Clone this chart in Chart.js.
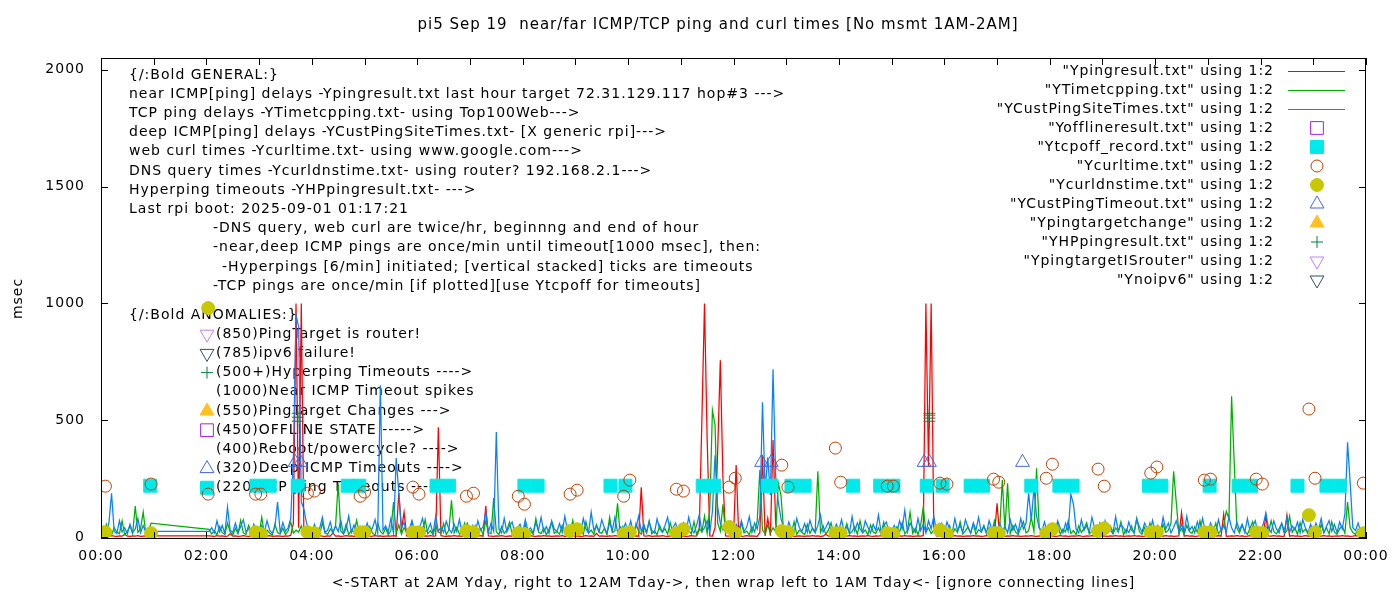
<!DOCTYPE html>
<html lang="en">
<head>
<meta charset="UTF-8">
<title>pi5 Sep 19 near/far ICMP/TCP ping and curl times</title>
<script src="https://cdn.jsdelivr.net/npm/chart.js"></script>
<style>
  html, body { margin: 0; padding: 0; background: #fff; }
</style>
</head>
<body>
<canvas id="chart" width="1400" height="600"></canvas>
<script>
// ---- data (x = minutes after 00:00, y = msec) ----
const stepMin = 3; // line series are sampled every 3 minutes, one row = one hour

const pingMs = [ // Ypingresult.txt (near ICMP)
  4,5,3,4,6,4,3,5,4,12,4,3,5,4,6,3,4,5,4,5,
  null,null,null,null,null,null,null,null,null,null,null,null,null,null,null,null,null,null,null,null,
  null,5,4,3,6,4,5,3,4,14,4,5,3,4,6,4,3,5,4,5,
  4,3,5,4,6,3,4,5,4,3,5,4,8,60,1000,40,1000,5,4,6,
  3,5,4,6,4,3,5,4,18,4,5,3,4,6,4,5,3,4,5,4,
  4,5,3,4,6,4,5,3,4,5,4,6,4,190,30,107,5,4,3,5,
  5,4,3,5,4,6,4,5,470,6,4,3,5,4,6,4,5,3,4,5,
  4,5,3,4,6,4,133,5,4,3,5,4,6,4,3,5,4,12,4,5,
  3,5,4,6,4,3,5,4,6,4,5,3,4,5,4,6,3,4,5,4,
  4,5,3,4,6,4,5,3,16,4,5,4,3,5,4,6,4,5,3,4,
  5,4,3,5,4,213,5,4,6,3,4,5,4,6,4,3,5,4,5,4,
  4,5,3,4,6,4,5,30,500,1000,420,5,4,40,370,757,250,5,4,6,
  4,308,5,3,4,6,4,5,4,3,20,350,5,80,6,415,60,5,4,3,
  5,4,6,3,4,5,4,3,5,4,6,4,5,3,4,12,4,5,3,4,
  4,5,3,4,6,4,5,3,4,5,4,6,4,3,5,4,6,4,5,4,
  5,4,3,5,4,6,4,5,3,4,5,4,6,1000,300,1000,40,5,4,3,
  4,5,3,4,6,4,5,3,4,5,4,6,4,5,3,4,6,4,5,4,
  145,5,4,3,5,4,6,4,5,3,4,5,4,6,4,3,5,4,5,4,
  4,5,3,4,6,4,5,3,4,5,4,6,4,3,5,4,6,4,5,4,
  5,4,3,5,4,6,4,5,3,4,5,4,6,4,5,3,4,6,4,5,
  4,5,3,4,6,4,5,3,4,5,105,4,6,4,5,3,4,6,4,5,
  4,5,3,4,6,4,98,3,4,5,4,6,4,5,3,4,6,4,5,4,
  5,4,94,5,4,6,4,5,3,4,94,4,6,4,5,3,4,6,4,5,
  4,5,3,4,6,4,5,3,4,5,4,6,4,5,3,4,6,4,5,4
];

const tcpPingMs = [ // YTimetcpping.txt
  30,12,55,18,9,40,22,15,70,11,25,48,14,133,20,35,107,16,28,60,
  null,null,null,null,null,null,null,null,null,null,null,null,null,null,null,null,null,null,null,null,
  null,33,14,28,10,45,19,12,60,22,9,38,15,72,18,11,50,24,13,42,
  16,85,12,30,18,9,55,20,14,38,11,26,65,17,30,22,48,12,20,35,
  14,40,22,10,62,18,12,35,20,48,230,25,14,55,11,30,19,72,15,26,
  22,12,45,17,9,60,24,14,38,11,28,150,16,52,13,40,20,10,66,18,
  12,35,20,75,14,28,10,48,22,16,58,11,30,158,18,42,13,25,60,15,
  24,10,50,18,36,12,70,20,14,167,22,11,45,16,30,64,13,26,40,18,
  11,55,19,28,12,80,22,15,40,10,34,62,17,24,13,50,20,38,12,72,
  20,14,42,11,66,18,30,12,54,22,16,38,10,85,19,28,145,13,46,21,
  15,32,10,58,24,12,44,18,70,14,26,11,50,20,36,13,62,16,28,40,
  12,48,20,30,14,66,11,38,22,90,16,120,543,480,60,25,140,18,34,15,
  20,35,12,60,18,26,10,45,22,70,287,30,14,52,18,40,24,231,180,28,
  14,42,18,66,12,30,20,11,55,16,38,24,282,20,48,13,30,62,15,26,
  10,36,20,58,14,24,45,12,70,18,30,11,52,22,16,40,13,64,20,28,
  18,12,44,20,62,14,28,107,16,38,11,50,128,22,40,15,30,12,56,20,
  24,14,48,10,36,20,66,13,28,44,16,58,11,32,22,50,14,40,18,70,
  20,36,244,30,230,14,50,22,12,40,66,18,28,84,24,295,40,16,30,12,
  15,44,20,58,12,34,22,70,16,28,11,48,20,36,62,14,26,44,18,30,
  12,54,18,30,14,40,22,66,10,34,20,48,16,80,24,12,42,18,60,14,
  22,38,14,56,20,30,60,282,150,18,36,12,50,24,16,44,20,70,13,28,
  16,40,22,60,14,30,48,110,80,603,317,40,18,52,24,12,38,66,15,30,
  20,12,44,18,70,24,14,36,58,16,28,90,20,40,12,62,22,34,14,48,
  18,30,12,54,20,40,14,66,22,12,36,48,16,150,40,20,12,34,18,22
];

const custPingMs = [ // YCustPingSiteTimes.txt (deep ICMP)
  20,45,18,60,188,25,15,70,22,40,14,55,20,35,80,18,50,22,30,25,
  null,null,null,null,null,null,null,null,null,null,null,null,null,null,null,null,null,null,null,null,
  null,25,40,18,70,22,50,15,128,30,20,60,18,45,75,22,35,16,55,24,
  18,50,22,70,30,16,45,150,20,62,25,40,80,340,950,900,150,120,60,28,
  22,55,16,40,85,20,30,65,18,48,24,72,15,35,90,20,52,18,44,26,
  20,60,24,38,75,18,650,30,48,22,80,16,338,190,40,62,20,35,70,24,
  18,45,80,22,30,58,16,90,25,42,20,68,35,18,55,24,75,20,40,60,
  22,50,18,70,30,45,107,20,60,25,450,35,18,80,22,48,65,20,38,55,
  20,75,28,40,18,62,30,85,22,45,16,70,35,24,58,20,90,28,42,18,
  25,55,20,80,35,18,107,30,48,22,75,40,18,62,28,85,20,45,30,60,
  22,70,18,40,90,25,55,20,65,30,18,78,35,22,50,85,20,40,60,24,
  28,60,20,85,35,18,50,95,24,40,70,20,110,350,128,60,30,45,22,65,
  20,55,30,70,25,42,88,20,60,35,90,577,200,342,180,718,260,150,80,40,
  22,65,30,18,80,40,25,58,20,72,35,18,50,95,22,40,65,28,18,55,
  30,75,20,45,18,88,25,60,35,20,70,42,18,55,28,95,22,48,65,20,
  25,50,18,70,35,115,22,60,40,20,80,28,55,18,70,35,90,24,45,60,
  20,65,35,18,80,28,50,22,75,40,18,60,30,85,22,45,18,70,35,55,
  22,60,28,45,18,75,30,55,20,80,35,60,188,70,210,90,40,25,65,20,
  30,55,20,70,38,18,60,25,184,140,35,18,75,28,50,20,85,40,22,60,
  18,70,30,48,20,88,25,55,40,18,65,30,20,78,45,22,60,35,18,72,
  25,50,20,85,35,60,18,42,70,25,55,20,90,30,45,18,65,28,80,22,
  20,60,35,18,75,28,50,22,88,40,18,65,30,55,20,80,25,45,70,18,
  28,55,103,40,20,70,35,18,60,25,85,22,48,30,65,18,75,40,20,55,
  22,60,30,80,18,45,70,25,55,20,65,35,100,406,231,40,28,60,22,35
];

// twice-hourly curl / DNS measurements (same timestamps)
const curlMinutes = [5,57,122,176,182,235,243,295,300,355,362,416,424,475,482,534,542,595,602,655,663,715,722,
  775,782,836,842,895,902,955,963,1016,1022,1076,1083,1135,1142,1195,1202,1256,1263,1315,1322,1375,1382,1437];
const curlMs = [218,227,184,184,184,188,197,175,193,214,184,175,188,175,141,184,201,175,244,205,197,214,252,
  308,214,381,235,218,218,231,227,248,235,252,312,291,218,274,300,244,248,248,227,548,252,231];
const dnsMs = [21,17,980,21,13,21,17,21,21,21,21,26,21,17,13,26,34,13,21,17,34,43,17,
  26,21,17,17,17,13,30,13,17,17,17,34,26,38,21,21,21,21,21,17,94,21,17];

const tcpoffMinutes = [56,177,192,224,281,294,382,396,482,497,580,597,685,698,759,763,786,801,856,887,902,940,
  958,990,1004,1059,1091,1106,1193,1207,1262,1295,1309,1362,1395,1410];
const tcpoffMs = [220,220,220,220,220,220,220,220,220,220,220,220,220,220,220,220,220,220,220,220,220,220,
  220,220,220,220,220,220,220,220,220,220,220,220,220,220];

const custTimeoutMinutes = [221,227,752,763,937,943,1049];
const custTimeoutMs = [320,320,320,320,320,320,320];

const hpMinutes = [224,224,224,943,943,943,943];
const hpMs = [496,513,530,496,509,522,530];

const xTickMinutes = [0,120,240,360,480,600,720,840,960,1080,1200,1320,1440];
const xTickLabels = ['00:00','02:00','04:00','06:00','08:00','10:00','12:00','14:00','16:00','18:00','20:00','22:00','00:00'];
const yTicks = [0,500,1000,1500,2000];

const titleText = 'pi5 Sep 19  near/far ICMP/TCP ping and curl times [No msmt 1AM-2AM]';
const xTitle = '<-START at 2AM Yday, right to 12AM Tday->, then wrap left to 1AM Tday<- [ignore connecting lines]';

const generalNotes = [
  ['{/:Bold GENERAL:}', 0],
  ['near ICMP[ping] delays -Ypingresult.txt last hour target 72.31.129.117 hop#3 --->', 0],
  ['TCP ping delays -YTimetcpping.txt- using Top100Web--->', 0],
  ['deep ICMP[ping] delays -YCustPingSiteTimes.txt- [X generic rpi]--->', 0],
  ['web curl times -Ycurltime.txt- using www.google.com--->', 0],
  ['DNS query times -Ycurldnstime.txt- using router? 192.168.2.1--->', 0],
  ['Hyperping timeouts -YHPpingresult.txt- --->', 0],
  ['Last rpi boot: 2025-09-01 01:17:21', 0],
  ['-DNS query, web curl are twice/hr, beginnng and end of hour', 84],
  ['-near,deep ICMP pings are once/min until timeout[1000 msec], then:', 84],
  ['-Hyperpings [6/min] initiated; [vertical stacked] ticks are timeouts', 93],
  ['-TCP pings are once/min [if plotted][use Ytcpoff for timeouts]', 84]
];
const anomalyNotes = [
  ['{/:Bold ANOMALIES:}', null],
  ['(850)PingTarget is router!', 'isrouter'],
  ['(785)ipv6 failure!', 'noipv6'],
  ['(500+)Hyperping Timeouts ---->', 'hp'],
  ['(1000)Near ICMP Timeout spikes', null],
  ['(550)PingTarget Changes --->', 'targetchange'],
  ['(450)OFFLINE STATE ----->', 'offline'],
  ['(400)Reboot/powercycle? ---->', null],
  ['(320)Deep ICMP Timeouts ---->', 'custtimeout'],
  ['(220)TCP ping Timeouts ---->', 'tcpoff']
];

// ---- build datasets ----
function lineSeries(vals) { return vals.map((v, i) => ({ x: i * stepMin, y: v })); }
function pointSeries(xs, ys) { return xs.map((m, i) => ({ x: m, y: ys[i] })); }

function lineDs(key, label, color, vals) {
  return { key, label, data: lineSeries(vals), borderColor: color, borderWidth: 1.25, pointRadius: 0,
    tension: 0, spanGaps: true, fill: false };
}
function markDs(key, label, data, style, radius, border, bg, rotation) {
  return { key, label, data, showLine: false, pointStyle: style, pointRadius: radius,
    pointBorderWidth: 1, pointBorderColor: border, pointBackgroundColor: bg,
    pointRotation: rotation || 0, borderColor: border, backgroundColor: bg };
}

const datasets = [
  lineDs('ping', '"Ypingresult.txt" using 1:2', '#ff0000', pingMs),
  lineDs('tcp', '"YTimetcpping.txt" using 1:2', '#00b000', tcpPingMs),
  lineDs('cust', '"YCustPingSiteTimes.txt" using 1:2', '#0a80ff', custPingMs),
  markDs('offline', '"Yofflineresult.txt" using 1:2', [], 'rect', 9, '#a020f0', 'rgba(0,0,0,0)'),
  markDs('tcpoff', '"Ytcpoff_record.txt" using 1:2', pointSeries(tcpoffMinutes, tcpoffMs), 'rect', 9.2, '#00eaea', '#00eaea'),
  markDs('curl', '"Ycurltime.txt" using 1:2', pointSeries(curlMinutes, curlMs), 'circle', 6, '#c04000', 'rgba(0,0,0,0)'),
  markDs('dns', '"Ycurldnstime.txt" using 1:2', pointSeries(curlMinutes, dnsMs), 'circle', 6.5, '#c8c800', '#c8c800'),
  markDs('custtimeout', '"YCustPingTimeout.txt" using 1:2', pointSeries(custTimeoutMinutes, custTimeoutMs), 'triangle', 8, '#4169e1', 'rgba(0,0,0,0)'),
  markDs('targetchange', '"Ypingtargetchange" using 1:2', [], 'triangle', 8, '#ffc020', '#ffc020'),
  markDs('hp', '"YHPpingresult.txt" using 1:2', pointSeries(hpMinutes, hpMs), 'cross', 6, '#008040', '#008040'),
  markDs('isrouter', '"YpingtargetISrouter" using 1:2', [], 'triangle', 8, '#c080ff', 'rgba(0,0,0,0)', 180),
  markDs('noipv6', '"Ynoipv6" using 1:2', [], 'triangle', 8, '#2f4f5f', 'rgba(0,0,0,0)', 180)
];
// gnuplot draws in plot order: later series on top
datasets.forEach((d, i) => { d.order = datasets.length - i; });
const byKey = {};
datasets.forEach(d => { byKey[d.key] = d; });

const FONT = '14px "DejaVu Sans"';
const TITLE_FONT = '15px "DejaVu Sans"';

function drawMark(ctx, d, x, y) {
  ctx.save();
  ctx.strokeStyle = d.pointBorderColor;
  ctx.fillStyle = d.pointBackgroundColor;
  ctx.lineWidth = 1;
  Chart.helpers.drawPoint(ctx, { pointStyle: d.pointStyle, radius: d.pointRadius,
    rotation: d.pointRotation, borderWidth: 1 }, x, y);
  ctx.restore();
}

const decor = {
  id: 'decor',
  beforeDraw(chart) {
    // gnuplot's png text is set a little looser than the browser's
    chart.ctx.letterSpacing = '1px';
  },
  beforeDatasetsDraw(chart) {
    const ctx = chart.ctx;
    ctx.save();
    ctx.font = FONT;
    ctx.fillStyle = '#000';
    ctx.textBaseline = 'middle';
    ctx.textAlign = 'left';
    generalNotes.forEach((n, i) => ctx.fillText(n[0], 129 + n[1], 75 + i * 19.2));
    anomalyNotes.forEach((n, i) => {
      const y = 315 + i * 19.2;
      if (i === 0) { ctx.fillText(n[0], 129, y); return; }
      ctx.fillText(n[0], 216, y);
      if (n[1]) drawMark(ctx, byKey[n[1]], 207, y);
    });
    ctx.restore();
  },
  afterDraw(chart) {
    const { ctx, chartArea: a, scales: { x, y } } = chart;
    ctx.save();
    // frame + inward mirrored ticks
    ctx.strokeStyle = '#000';
    ctx.lineWidth = 1;
    ctx.strokeRect(a.left + 0.5, a.top + 0.5, a.right - a.left - 1, a.bottom - a.top - 1);
    ctx.beginPath();
    yTicks.forEach(v => {
      const py = Math.round(y.getPixelForValue(v)) + 0.5;
      ctx.moveTo(a.left, py); ctx.lineTo(a.left + 7, py);
      ctx.moveTo(a.right, py); ctx.lineTo(a.right - 7, py);
    });
    for (let m = 0; m <= 1440; m += 60) {
      const px = Math.round(x.getPixelForValue(m)) + 0.5;
      ctx.moveTo(px, a.bottom); ctx.lineTo(px, a.bottom - 7);
      ctx.moveTo(px, a.top); ctx.lineTo(px, a.top + 7);
    }
    ctx.stroke();

    // title
    ctx.font = TITLE_FONT;
    ctx.fillStyle = '#000';
    ctx.textBaseline = 'middle';
    ctx.textAlign = 'center';
    ctx.fillText(titleText, 718, 25);

    // key, gnuplot style: right-aligned text, sample on the right
    ctx.font = FONT;
    datasets.forEach((d, i) => {
      const ly = 71 + i * 19;
      ctx.textAlign = 'right';
      ctx.fillStyle = '#000';
      ctx.fillText(d.label, 1274, ly);
      if (d.showLine === false) {
        drawMark(ctx, d, 1317, ly);
      } else {
        ctx.beginPath();
        ctx.strokeStyle = d.borderColor;
        ctx.moveTo(1288, ly + 0.5); ctx.lineTo(1345, ly + 0.5);
        ctx.stroke();
      }
    });
    ctx.restore();
  }
};

Chart.defaults.font.family = '"DejaVu Sans"';
Chart.defaults.font.size = 14;
Chart.defaults.color = '#000';

new Chart(document.getElementById('chart'), {
  type: 'line',
  data: { datasets },
  options: {
    responsive: false,
    animation: false,
    devicePixelRatio: 1,
    layout: { padding: { top: 58, right: 34, left: 0, bottom: 0 } },
    plugins: { legend: { display: false }, title: { display: false }, tooltip: { enabled: false } },
    scales: {
      x: {
        type: 'linear', min: 0, max: 1440,
        grid: { display: false, drawTicks: false },
        border: { display: false },
        afterFit: s => { s.height = 61; },
        afterBuildTicks: s => { s.ticks = xTickMinutes.map(v => ({ value: v })); },
        ticks: { autoSkip: false, maxRotation: 0, padding: 9, color: '#000',
          callback: (v, i) => xTickLabels[i] },
        title: { display: true, text: xTitle, color: '#000', padding: { top: 0, bottom: 8 } }
      },
      y: {
        type: 'linear', min: -8, max: 2050,
        grid: { display: false, drawTicks: false },
        border: { display: false },
        afterFit: s => { s.width = 101; },
        afterBuildTicks: s => { s.ticks = yTicks.map(v => ({ value: v })); },
        ticks: { padding: 16, color: '#000', callback: v => String(v) },
        title: { display: true, text: 'msec', color: '#000', padding: { top: 10, bottom: 0 } }
      }
    }
  },
  plugins: [decor]
});
</script>
</body>
</html>
